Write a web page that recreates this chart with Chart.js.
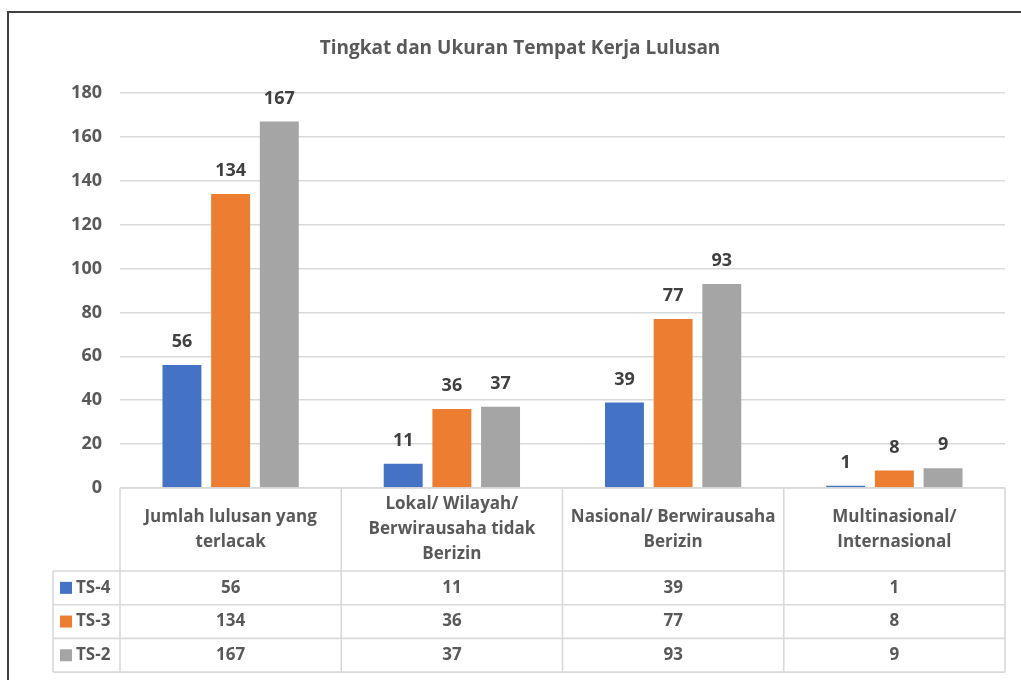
<!DOCTYPE html>
<html>
<head>
<meta charset="utf-8">
<script src="https://cdn.jsdelivr.net/npm/chart.js@4.4.1/dist/chart.umd.min.js"></script>
<style>
  html, body { margin: 0; padding: 0; background: #fff; }
  #wrap { width: 1021px; height: 680px; position: relative; }
</style>
</head>
<body>
<div id="wrap"><canvas id="c" width="1021" height="680"></canvas></div>
<script>
const categories = [
  ["Jumlah lulusan yang", "terlacak"],
  ["Lokal/ Wilayah/", "Berwirausaha tidak", "Berizin"],
  ["Nasional/ Berwirausaha", "Berizin"],
  ["Multinasional/", "Internasional"]
];
const seriesNames = ["TS-4", "TS-3", "TS-2"];
const ts4 = [56, 11, 39, 1];
const ts3 = [134, 36, 77, 8];
const ts2 = [167, 37, 93, 9];
const seriesColors = ["#4472C4", "#ED7D31", "#A5A5A5"];
const chartTitle = "Tingkat dan Ukuran Tempat Kerja Lulusan";

const FONT = "'Open Sans', sans-serif";
const TEXT = "#595959";
const LINE = "#d9d9d9";

const tablePlugin = {
  id: "tablePlugin",
  beforeDraw(chart) {
    const ctx = chart.ctx;
    ctx.save();
    ctx.fillStyle = "#fff";
    ctx.fillRect(0, 0, chart.width, chart.height);
    // outer frame
    ctx.strokeStyle = "#404040";
    ctx.lineWidth = 2;
    ctx.beginPath();
    ctx.moveTo(1021, 12);
    ctx.lineTo(8, 12);
    ctx.lineTo(8, 680);
    ctx.stroke();
    ctx.restore();
  },
  afterDatasetsDraw(chart) {
    const ctx = chart.ctx;
    const x = chart.scales.x;
    const area = chart.chartArea;
    ctx.save();
    // data labels above bars
    ctx.font = "bold 18px " + FONT;
    ctx.fillStyle = "#404040";
    ctx.textAlign = "center";
    ctx.textBaseline = "middle";
    chart.data.datasets.forEach((ds, di) => {
      const meta = chart.getDatasetMeta(di);
      meta.data.forEach((bar, i) => {
        ctx.fillText(String(ds.data[i]), bar.x, bar.y - 23);
      });
    });

    // data table
    const n = categories.length;
    const bounds = [];
    const half = (x.getPixelForValue(1) - x.getPixelForValue(0)) / 2;
    for (let i = 0; i < n; i++) bounds.push(x.getPixelForValue(i) - half);
    bounds.push(x.getPixelForValue(n - 1) + half);
    const top = area.bottom;
    const headerBottom = 571;
    const rowH = 33.7;
    const legendLeft = 53;
    const rows = [ts4, ts3, ts2];
    const tableBottom = headerBottom + rowH * rows.length;

    ctx.strokeStyle = LINE;
    ctx.lineWidth = 1.6;
    ctx.beginPath();
    ctx.moveTo(bounds[0], top); ctx.lineTo(bounds[n], top);
    for (let r = 0; r <= rows.length; r++) {
      const yy = headerBottom + r * rowH;
      ctx.moveTo(legendLeft, yy); ctx.lineTo(bounds[n], yy);
    }
    for (let i = 0; i <= n; i++) {
      ctx.moveTo(bounds[i], top); ctx.lineTo(bounds[i], tableBottom);
    }
    ctx.moveTo(legendLeft, headerBottom); ctx.lineTo(legendLeft, tableBottom);
    ctx.stroke();

    // header text
    ctx.fillStyle = TEXT;
    ctx.font = "bold 17px " + FONT;
    const lh = 25;
    const hc = (top + headerBottom) / 2;
    categories.forEach((lines, i) => {
      const cx = (bounds[i] + bounds[i + 1]) / 2;
      const start = hc - (lines.length - 1) * lh / 2;
      lines.forEach((ln, k) => ctx.fillText(ln, cx, start + k * lh));
    });
    // rows
    rows.forEach((vals, r) => {
      const cy = headerBottom + r * rowH + rowH / 2;
      ctx.fillStyle = seriesColors[r];
      ctx.fillRect(60, cy - 6, 12, 12);
      ctx.fillStyle = TEXT;
      ctx.textAlign = "left";
      ctx.fillText(seriesNames[r], 76, cy);
      ctx.textAlign = "center";
      vals.forEach((v, i) => {
        const cx = (bounds[i] + bounds[i + 1]) / 2;
        ctx.fillText(String(v), cx, cy);
      });
    });
    ctx.restore();
  }
};

new Chart(document.getElementById("c"), {
  type: "bar",
  data: {
    labels: categories,
    datasets: [
      { label: seriesNames[0], data: ts4, backgroundColor: seriesColors[0] },
      { label: seriesNames[1], data: ts3, backgroundColor: seriesColors[1] },
      { label: seriesNames[2], data: ts2, backgroundColor: seriesColors[2] }
    ]
  },
  options: {
    responsive: false,
    animation: false,
    devicePixelRatio: 1,
    layout: { padding: { top: 0, left: 35, right: 16, bottom: 192 } },
    datasets: { bar: { categoryPercentage: 0.66, barPercentage: 0.8 } },
    plugins: {
      legend: { display: false },
      tooltip: { enabled: false },
      title: {
        display: true,
        text: chartTitle,
        color: TEXT,
        font: { family: FONT, size: 19, weight: "bold", lineHeight: 1.2 },
        padding: { top: 37, bottom: 33.2 }
      }
    },
    scales: {
      x: { display: false },
      y: {
        min: 0, max: 180,
        afterFit(s) { s.width = 85; },
        border: { display: false },
        grid: { color: LINE, lineWidth: 1.6, drawTicks: false },
        ticks: {
          stepSize: 20, padding: 18, color: TEXT,
          font: { family: FONT, size: 18, weight: "bold" }
        }
      }
    }
  },
  plugins: [tablePlugin]
});
</script>
</body>
</html>
